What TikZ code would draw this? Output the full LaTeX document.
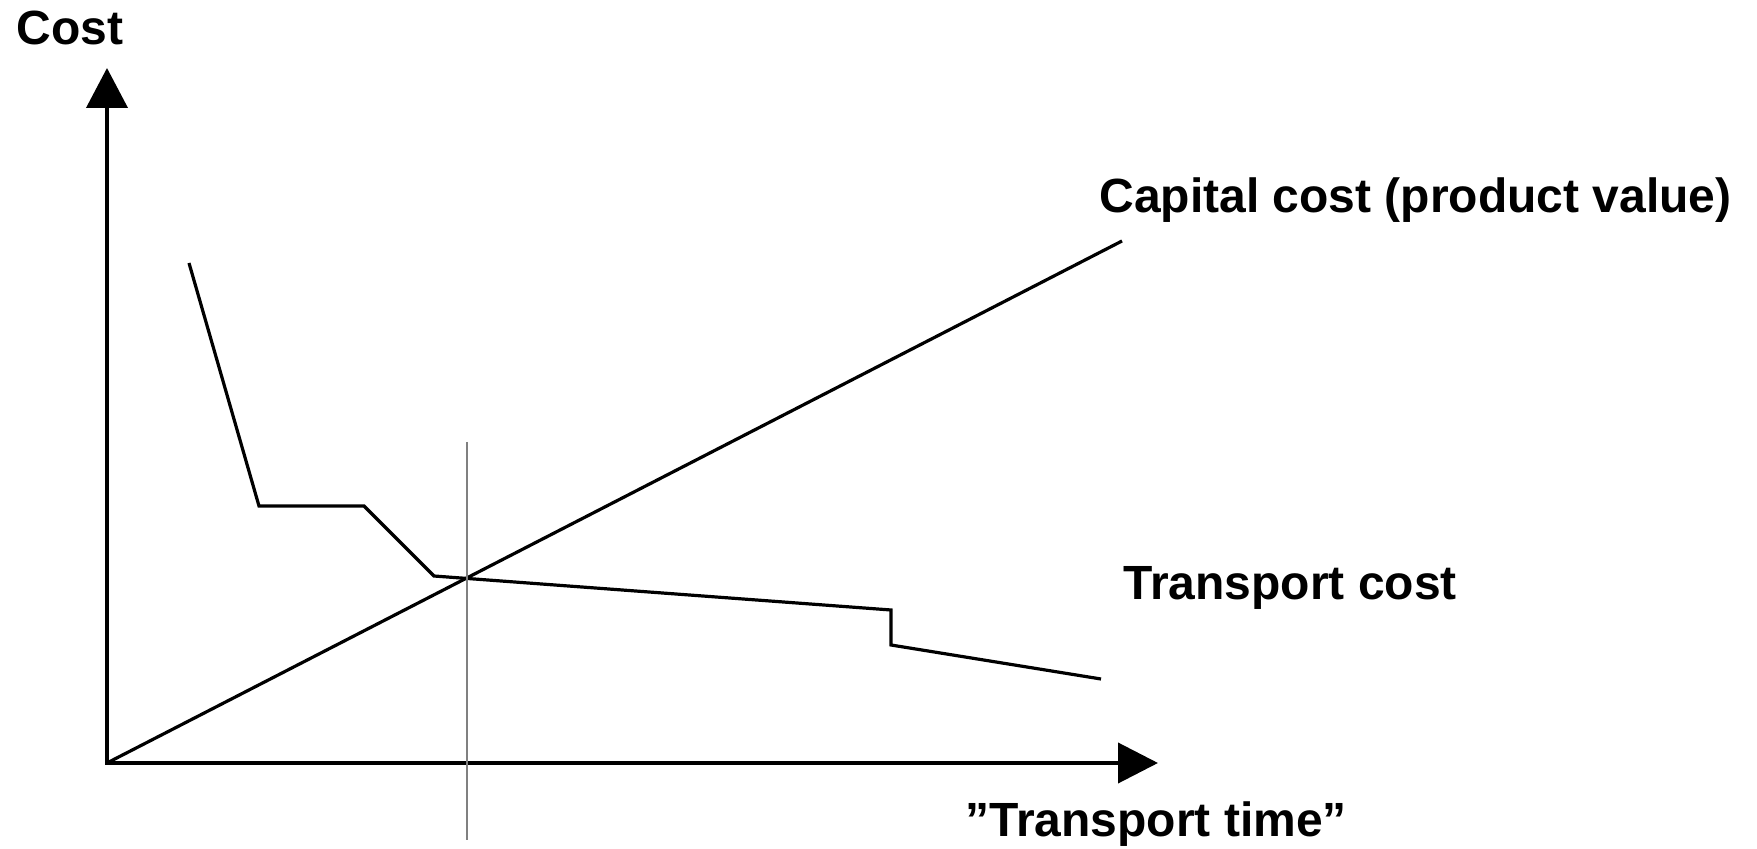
\documentclass[tikz,border=0pt]{standalone}
\usepackage{fontspec}
\setmainfont{Liberation Sans}
\usetikzlibrary{arrows.meta}
\begin{document}
\begin{tikzpicture}[x=0.5pt,y=-0.5pt,
  axis/.style={line width=2pt,line join=miter,
    {Triangle[length=20pt,width=20.5pt]}-{Triangle[length=20pt,width=20pt]}},
  curve/.style={line width=1.6pt,line join=miter},
  marker/.style={line width=1pt,draw={rgb,255:red,128;green,128;blue,128}},
  lbl/.style={inner sep=0pt,anchor=base west,
    font=\fontsize{24pt}{29pt}\selectfont\bfseries}]
\useasboundingbox (0,0) rectangle (1757,849);

% axes
\coordinate (origin) at (107,763);
\coordinate (ytip) at (107,68);
\coordinate (xtip) at (1158,763);
\draw[axis] (ytip) -- (origin) -- (xtip);

% capital cost line
\coordinate (capend) at (1122,241);
\draw[curve] (origin) -- (capend);

% transport cost curve
\coordinate (t1) at (189,263);
\coordinate (t2) at (259,506);
\coordinate (t3) at (364,506);
\coordinate (t4) at (434,576);
\coordinate (t5) at (891,610);
\coordinate (t6) at (891,645);
\coordinate (t7) at (1101,679);
\draw[curve] (t1) -- (t2) -- (t3) -- (t4) -- (t5) -- (t6) -- (t7);

% vertical marker through the crossing point
\coordinate (mtop) at (467,442);
\coordinate (mbot) at (467,840);
\draw[marker] (mtop) -- (mbot);

% labels
\node[lbl] (costlbl) at (16,45) {Cost};
\node[lbl] (caplbl) at (1099,213) {Capital cost (product value)};
\node[lbl] (translbl) at (1123,600) {Transport cost};
\node[lbl] (timelbl) at (965,836) {”Transport time”};
\end{tikzpicture}
\end{document}
